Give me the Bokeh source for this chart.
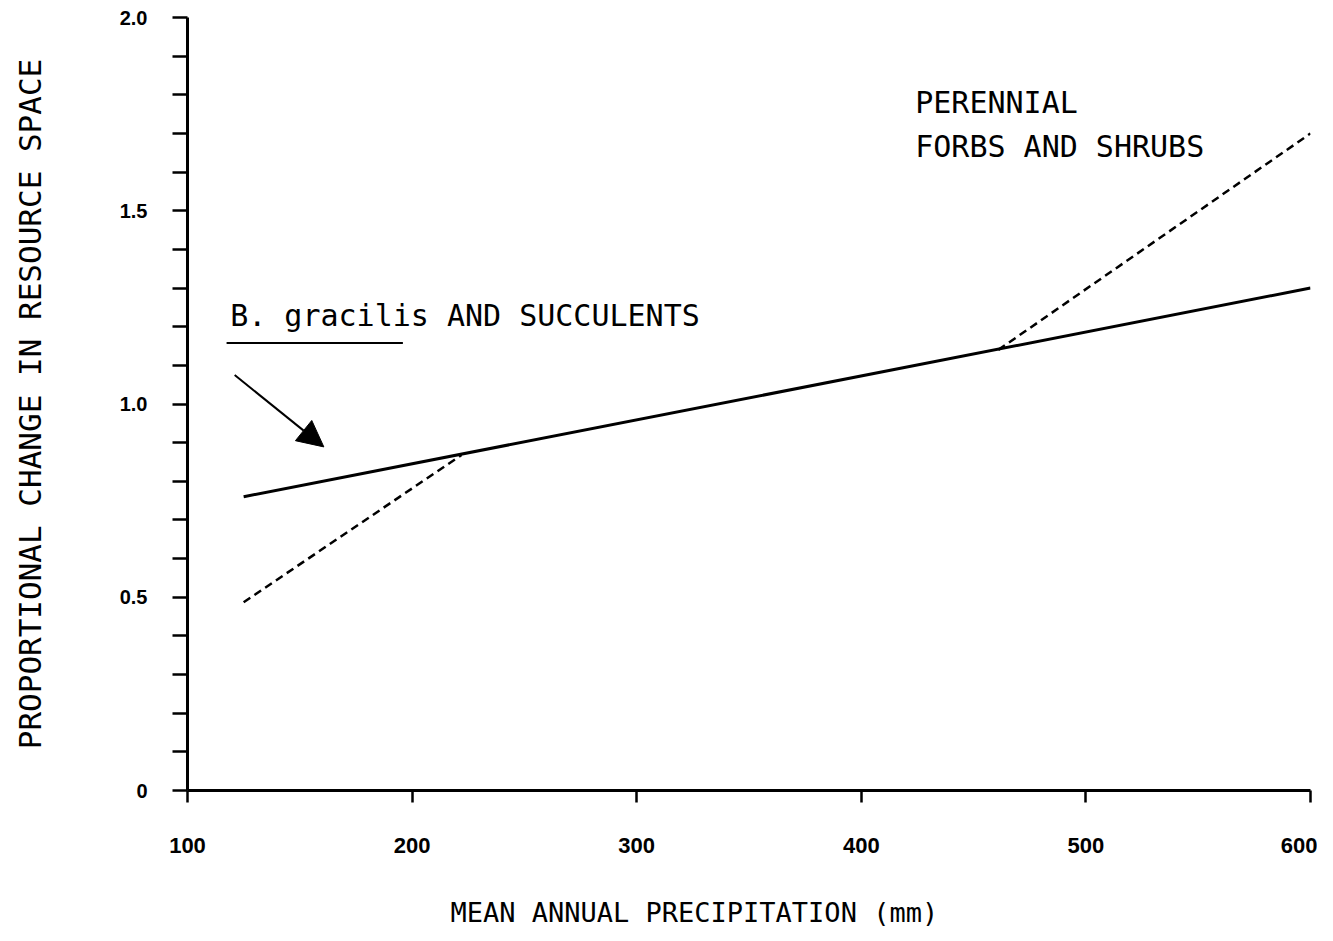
from bokeh.plotting import figure
from bokeh.models import Range1d, FixedTicker, Label, Arrow, NormalHead, Title
from bokeh.embed import file_html
from bokeh.resources import INLINE

# ---- data ----
solid_x = [125, 600]
solid_y = [0.76, 1.30]
low_dash_x = [125, 222]
low_dash_y = [0.487, 0.868]
high_dash_x = [461, 600]
high_dash_y = [1.140, 1.700]

x_ticks = [100, 200, 300, 400, 500, 600]
y_ticks = [0, 0.5, 1.0, 1.5, 2.0]
y_minor = [0.1, 0.2, 0.3, 0.4, 0.6, 0.7, 0.8, 0.9, 1.1, 1.2, 1.3, 1.4, 1.6, 1.7, 1.8, 1.9]
y_tick_labels = {0: "0", 0.5: "0.5", 1.0: "1.0", 1.5: "1.5", 2.0: "2.0"}

x_title = "MEAN ANNUAL PRECIPITATION (mm)"
y_title = "PROPORTIONAL CHANGE IN RESOURCE SPACE"
label_bg = "B. gracilis AND SUCCULENTS"
label_pf1 = "PERENNIAL"
label_pf2 = "FORBS AND SHRUBS"
label_pos_bg = (119, 1.23)
label_pos_pf1 = (424, 1.78)
label_pos_pf2 = (424, 1.666)
underline_x = [117.4, 195.9]
underline_y = [1.158, 1.158]
arrow_from = (121, 1.075)
arrow_to = (160.7, 0.889)

MONO = "DejaVu Sans Mono"

p = figure(width=1317, height=940, output_backend="svg", toolbar_location=None,
           x_range=Range1d(100, 600), y_range=Range1d(0, 2.0),
           min_border_left=187, min_border_right=7, min_border_top=17, min_border_bottom=150)
p.outline_line_color = None
p.xgrid.grid_line_color = None
p.ygrid.grid_line_color = None
p.background_fill_color = "white"
p.border_fill_color = "white"

# axes
p.xaxis.ticker = FixedTicker(ticks=x_ticks)
p.yaxis.ticker = FixedTicker(ticks=y_ticks, minor_ticks=y_minor)
p.yaxis.major_label_overrides = y_tick_labels
for ax in (p.xaxis, p.yaxis):
    ax.axis_line_width = 3
    ax.axis_line_color = "black"
    ax.major_tick_line_width = 2.5
    ax.major_tick_line_color = "black"
    ax.minor_tick_line_width = 2.5
    ax.minor_tick_line_color = "black"
    ax.major_tick_in = 0
    ax.minor_tick_in = 0
    ax.major_label_text_font = "Liberation Sans"
    ax.major_label_text_font_style = "bold"
    ax.major_label_text_color = "black"
    ax.axis_label_text_font = MONO
    ax.axis_label_text_font_style = "normal"
    ax.axis_label_text_color = "black"

p.xaxis.major_label_text_font_size = "22px"
p.xaxis.major_tick_out = 12
p.xaxis.minor_tick_out = 0
p.xaxis.major_label_standoff = 35

p.yaxis.major_label_text_font_size = "20px"
p.yaxis.major_tick_out = 15
p.yaxis.minor_tick_out = 15
p.yaxis.major_label_standoff = 25
p.yaxis.axis_label = y_title
p.yaxis.axis_label_text_font_size = "31px"
p.yaxis.axis_label_standoff = 69

# x-axis title, set left of centre as in the original (leading blank line pushes it down)
p.add_layout(Title(text="\n" + x_title, align="left", offset=263, standoff=16,
                   vertical_align="bottom", text_font=MONO, text_font_size="27px",
                   text_font_style="normal", text_color="black"), "below")

# lines
p.line(solid_x, solid_y, line_color="black", line_width=3)
p.line(low_dash_x, low_dash_y, line_color="black", line_width=2.5, line_dash="8 5")
p.line(high_dash_x, high_dash_y, line_color="black", line_width=2.5, line_dash="8 5")
p.line(underline_x, underline_y, line_color="black", line_width=2)

p.add_layout(Arrow(end=NormalHead(size=26, fill_color="black", line_color="black"),
                   x_start=arrow_from[0], y_start=arrow_from[1],
                   x_end=arrow_to[0], y_end=arrow_to[1],
                   line_color="black", line_width=2))

for txt, pos in ((label_bg, label_pos_bg), (label_pf1, label_pos_pf1), (label_pf2, label_pos_pf2)):
    p.add_layout(Label(x=pos[0], y=pos[1], text=txt, text_font=MONO, text_font_size="30px",
                       text_baseline="middle", text_align="left", text_color="black"))

open("out.html", "w").write(file_html(p, INLINE))
